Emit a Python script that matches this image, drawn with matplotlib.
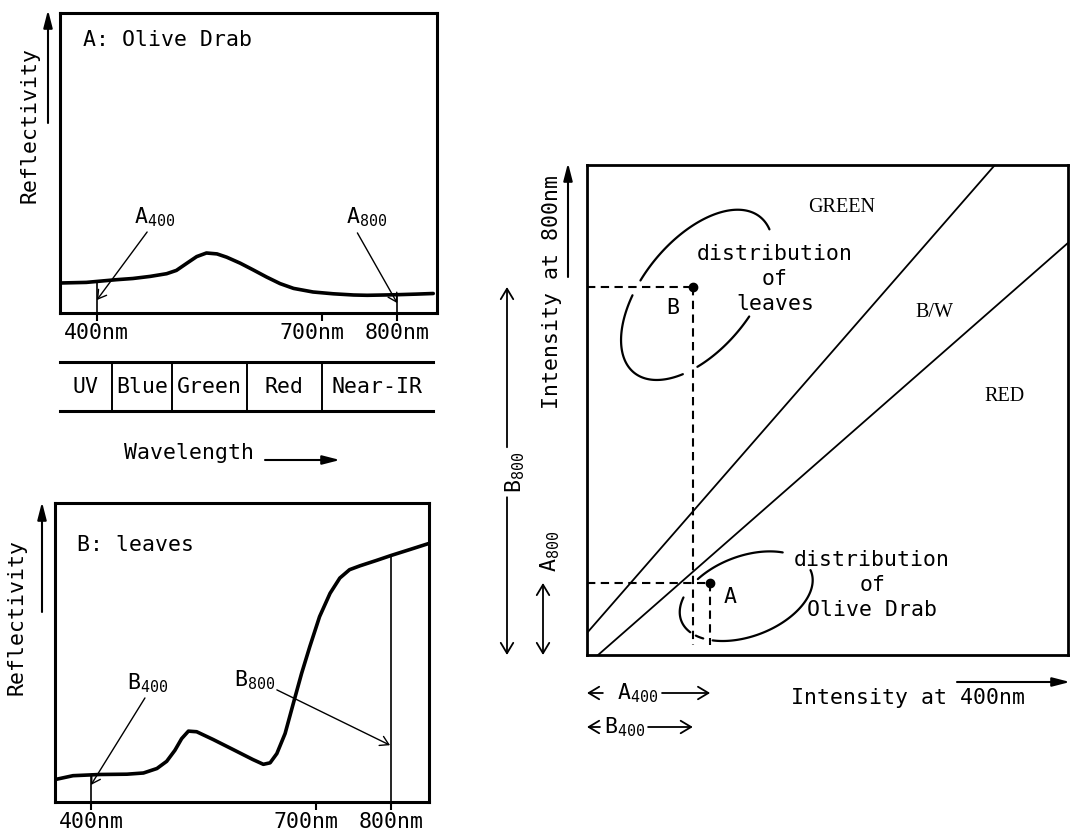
import numpy as np
import matplotlib
matplotlib.use("Agg")
import matplotlib.pyplot as plt
from matplotlib.transforms import ScaledTranslation

plt.rcParams['font.family'] = ['DejaVu Sans Mono']
plt.rcParams['mathtext.fontset'] = 'custom'
plt.rcParams['mathtext.rm'] = 'DejaVu Sans Mono'
plt.rcParams['mathtext.it'] = 'DejaVu Sans Mono'
plt.rcParams['mathtext.bf'] = 'DejaVu Sans Mono'

# ---------------- data ----------------
# A: Olive Drab reflectivity spectrum (wavelength nm, relative reflectivity 0-100)
wl_a = [351, 386, 426, 448, 471, 493, 506, 520, 533, 546, 560, 573, 591, 608,
        626, 644, 662, 688, 715, 742, 760, 782, 800, 826, 848]
refl_a = [10.0, 10.2, 11.1, 11.5, 12.2, 13.1, 14.2, 16.6, 18.8, 20.0, 19.7, 18.6,
          16.6, 14.4, 12.0, 9.8, 8.2, 7.0, 6.4, 6.0, 5.9, 6.0, 6.1, 6.3, 6.5]
# B: leaves reflectivity spectrum
wl_b = [352, 376, 412, 448, 470, 488, 501, 512, 521, 530, 541, 563, 590, 616,
        630, 639, 648, 659, 670, 681, 692, 705, 719, 732, 745, 759, 781, 801,
        825, 850]
refl_b = [7.5, 8.8, 9.2, 9.3, 9.7, 11.2, 13.6, 17.3, 21.2, 23.7, 23.5, 20.9,
          17.5, 14.2, 12.6, 13.1, 16.2, 22.9, 33.0, 43.0, 52.0, 62.0, 69.8, 74.9,
          77.7, 79.0, 80.8, 82.5, 84.4, 86.4]
wl_range_a = (351, 853)
wl_range_b = (352, 851)
tick_wl = [400, 700, 800]
tick_labels = ['400nm', '700nm', '800nm']
sample_wl = [400, 800]
band_edges = [351, 420, 500, 600, 700, 848]
band_names = ['UV', 'Blue', 'Green', 'Red', 'Near-IR']

# Right panel: intensity at 400nm (x) vs intensity at 800nm (y), 0-100
green_bw_x = [0.0, 84.8]
green_bw_y = [4.5, 100.0]
bw_red_x = [2.3, 100.0]
bw_red_y = [0.0, 84.1]
point_A = (25.6, 14.7)   # olive drab (A400, A800)
point_B = (22.0, 75.1)   # leaves (B400, B800)
region_names = ['GREEN', 'B/W', 'RED']
region_x = [53.0, 72.3, 86.9]
region_y = [91.4, 69.8, 52.7]
# distributions: centre x, centre y, semi-axes, tilt (deg), drawn arc pieces (deg)
leaves_ellipse = dict(cx=22.9, cy=73.5, a=20.6, b=11.3, ang=50,
                      pieces=[(345, 465), (115, 226), (237, 280)])
olive_ellipse = dict(cx=33.1, cy=12.0, a=14.4, b=8.2, ang=20,
                     pieces=[(45, 125), (149, 201), (209, 218), (228, 363)])

# ---------------- figure ----------------
W, H = 1071, 838
fig = plt.figure(figsize=(W / 100, H / 100), dpi=100)
FS = 15.5


def rect(x0, y0, x1, y1):
    return [x0 / W, 1 - y1 / H, (x1 - x0) / W, (y1 - y0) / H]


def P(x, y):
    return (x / W, 1 - y / H)


def spectrum_axes(pos, wl, refl, xr):
    ax = fig.add_axes(pos)
    ax.set_xlim(*xr)
    ax.set_ylim(0, 100)
    ax.plot(wl, refl, color='k', lw=2.6, solid_capstyle='round')
    for s in ax.spines.values():
        s.set_linewidth(2.2)
    ax.set_yticks([])
    ax.set_xticks(tick_wl)
    ax.set_xticklabels(tick_labels, fontsize=FS)
    ax.tick_params(axis='x', direction='out', length=6, width=1.5, pad=1)
    off = ScaledTranslation(-10 / 100, 0, fig.dpi_scale_trans)
    for lab in ax.get_xticklabels():
        if lab.get_text() == '700nm':
            lab.set_transform(lab.get_transform() + off)
    tops = np.interp(sample_wl, wl, refl)
    ax.vlines(sample_wl, 0, tops, color='k', lw=1.2)
    return ax


def farrow(ax, x0, y0, x1, y1, style, lw=1.5, coords='figure pixels', ms=15):
    ax.annotate('', xy=(x1, y1), xytext=(x0, y0), xycoords=coords,
                textcoords=coords, annotation_clip=False,
                arrowprops=dict(arrowstyle=style, lw=lw, color='k',
                                shrinkA=0, shrinkB=0, mutation_scale=ms))


filled = '-|>,head_length=0.7,head_width=0.18'
opened = '->,head_length=0.5,head_width=0.3'

# ---- Panel A ----
axA = spectrum_axes(rect(60, 13, 437, 313), wl_a, refl_a, wl_range_a)
axA.text(381, 91, 'A: Olive Drab', fontsize=FS, ha='left', va='center')
axA.text(477, 32, r'A$_{400}$', fontsize=FS, ha='center', va='center')
axA.text(760, 32, r'A$_{800}$', fontsize=FS, ha='center', va='center')
farrow(axA, 467, 27, 400, 4.3, opened, lw=1.0, coords='data', ms=12)
farrow(axA, 747, 26.7, 800, 3.3, opened, lw=1.0, coords='data', ms=12)
fig.text(*P(30, 125), 'Reflectivity', rotation=90, ha='center', va='center', fontsize=FS)
farrow(axA, 48, H - 123, 48, H - 10, filled)

# ---- band table ----
axT = fig.add_axes(rect(60, 362, 433, 411))
axT.set_xlim(band_edges[0], band_edges[-1])
axT.set_ylim(0, 1)
axT.set_xticks([]); axT.set_yticks([])
for side in ['left', 'right']:
    axT.spines[side].set_visible(False)
for side in ['top', 'bottom']:
    axT.spines[side].set_linewidth(2.2)
for e in band_edges[1:-1]:
    axT.axvline(e, color='k', lw=1.4)
for i, name in enumerate(band_names):
    axT.text((band_edges[i] + band_edges[i + 1]) / 2, 0.5, name, fontsize=FS,
             ha='center', va='center')
fig.text(*P(124, 453), 'Wavelength', ha='left', va='center', fontsize=FS)
farrow(axT, 265, H - 460, 340, H - 460, filled)

# ---- Panel B ----
axB = spectrum_axes(rect(55, 503, 429, 802), wl_b, refl_b, wl_range_b)
axB.text(381, 86, 'B: leaves', fontsize=FS, ha='left', va='center')
axB.text(476, 39.8, r'B$_{400}$', fontsize=FS, ha='center', va='center')
axB.text(619, 40.8, r'B$_{800}$', fontsize=FS, ha='center', va='center')
farrow(axB, 472, 34.8, 400, 5.7, opened, lw=1.0, coords='data', ms=12)
farrow(axB, 648, 37.5, 799, 19, opened, lw=1.0, coords='data', ms=12)
fig.text(*P(17, 617), 'Reflectivity', rotation=90, ha='center', va='center', fontsize=FS)
farrow(axB, 42, H - 612, 42, H - 502, filled)

# ---- Right panel ----
axR = fig.add_axes(rect(587, 165, 1068, 655))
axR.set_xlim(0, 100)
axR.set_ylim(0, 100)
axR.set_xticks([]); axR.set_yticks([])
for s in axR.spines.values():
    s.set_linewidth(2.0)
axR.plot(green_bw_x, green_bw_y, color='k', lw=1.3)
axR.plot(bw_red_x, bw_red_y, color='k', lw=1.3)
for name, x, y in zip(region_names, region_x, region_y):
    axR.text(x, y, name, fontsize=14.5, family='Liberation Serif',
             ha='center', va='center')

dash = dict(color='k', lw=1.5, dashes=(4, 2.6))
for (px_, py_) in [point_A, point_B]:
    axR.plot([0, px_], [py_, py_], **dash)
    axR.plot([px_, px_], [py_, 2], **dash)
    axR.plot([px_], [py_], 'o', color='k', ms=6)
axR.text(17.9, 70.8, 'B', fontsize=FS, ha='center', va='center')
axR.text(29.7, 11.8, 'A', fontsize=FS, ha='center', va='center')


def draw_ellipse(ax, e):
    th = np.deg2rad(e['ang'])
    for t0, t1 in e['pieces']:
        t = np.deg2rad(np.linspace(t0, t1, 120))
        u = e['a'] * np.cos(t)
        v = e['b'] * np.sin(t)
        x = e['cx'] + u * np.cos(th) - v * np.sin(th)
        y = e['cy'] + u * np.sin(th) + v * np.cos(th)
        ax.plot(x, y, color='k', lw=1.6, solid_capstyle='round')


draw_ellipse(axR, leaves_ellipse)
draw_ellipse(axR, olive_ellipse)
axR.text(39.1, 76.7, 'distribution\nof\nleaves', fontsize=FS, ha='center',
         va='center', linespacing=1.3)
axR.text(59.3, 14.3, 'distribution\nof\nOlive Drab', fontsize=FS, ha='center',
         va='center', linespacing=1.3)

# axis labels of right panel
fig.text(*P(552, 292), 'Intensity at 800nm', rotation=90, ha='center', va='center', fontsize=FS)
farrow(axR, 568, H - 277, 568, H - 163, filled)
fig.text(*P(908, 698), 'Intensity at 400nm', ha='center', va='center', fontsize=FS)
farrow(axR, 957, H - 682, 1070, H - 682, filled)

# magnitude arrows (figure x, data y)
mix = ('figure pixels', 'data')
farrow(axR, 507, 42.4, 507, point_B[1], opened, lw=1.3, coords=mix)
farrow(axR, 507, 32.2, 507, 0, opened, lw=1.3, coords=mix)
fig.text(*P(515, 472), r'B$_{800}$', rotation=90, ha='center', va='center', fontsize=FS)
farrow(axR, 543, 0, 543, point_A[1], '<->,head_length=0.5,head_width=0.3', lw=1.3, coords=mix)
fig.text(*P(550, 551), r'A$_{800}$', rotation=90, ha='center', va='center', fontsize=FS)

mix2 = ('data', 'figure pixels')
farrow(axR, 3.3, H - 693, 0, H - 693, opened, lw=1.3, coords=mix2)
farrow(axR, 15.6, H - 693, point_A[0], H - 693, opened, lw=1.3, coords=mix2)
fig.text(*P(638, 693), r'A$_{400}$', ha='center', va='center', fontsize=FS)
farrow(axR, 2.7, H - 727, 0, H - 727, opened, lw=1.3, coords=mix2)
farrow(axR, 12.7, H - 727, point_B[0], H - 727, opened, lw=1.3, coords=mix2)
fig.text(*P(625, 727), r'B$_{400}$', ha='center', va='center', fontsize=FS)

fig.savefig('out.png', dpi=100)
